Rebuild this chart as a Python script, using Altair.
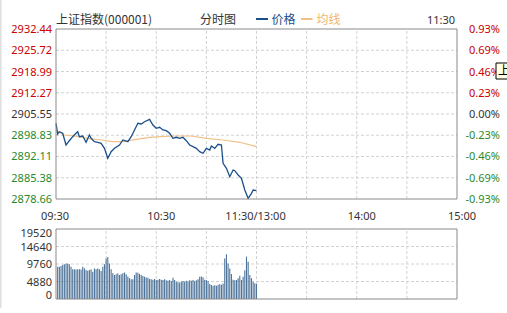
import altair as alt
import pandas as pd

# ---------------- data ----------------
price_ticks = [2932.44, 2925.72, 2918.99, 2912.27, 2905.55, 2898.83, 2892.11, 2885.38, 2878.66]
pct_labels = ["0.93%", "0.69%", "0.46%", "0.23%", "0.00%", "-0.23%", "-0.46%", "-0.69%", "-0.93%"]
prev_close = 2905.55
vol_ticks = [19520, 14640, 9760, 4880, 0]
time_ticks = [0, 60, 120, 180, 240]
time_labels = ["09:30", "10:30", "11:30/13:00", "14:00", "15:00"]
grid_minutes = [30, 60, 90, 120, 150, 180, 210]

price_minutes = [0, 1, 2, 4, 6, 8, 10, 12, 13, 14, 16, 18, 20, 21, 23, 25, 27, 29, 31, 33,
                 35, 38, 40, 43, 45, 47, 49, 51, 53, 56, 58, 60, 62, 64, 66, 68, 70, 72, 74, 76,
                 78, 80, 82, 84, 86, 88, 90, 92, 93, 95, 97, 99, 100, 102, 104, 106, 107, 109, 111, 113,
                 115, 117, 118, 120]
price_values = [2902.61, 2899.22, 2899.95, 2899.45, 2895.74, 2897.10, 2898.37, 2899.44, 2899.95, 2898.37,
                2898.59, 2896.60, 2898.91, 2897.86, 2896.79, 2896.60, 2896.28, 2894.70, 2891.54, 2893.62,
                2894.70, 2895.74, 2897.33, 2896.79, 2898.37, 2900.49, 2902.61, 2902.39, 2903.11, 2903.87,
                2902.07, 2901.03, 2901.34, 2900.49, 2900.27, 2899.44, 2897.86, 2898.18, 2897.86, 2898.18,
                2897.10, 2895.74, 2895.21, 2894.70, 2893.62, 2893.12, 2894.70, 2894.16, 2895.43, 2894.70,
                2895.97, 2895.74, 2889.95, 2888.37, 2885.72, 2887.83, 2887.61, 2886.25, 2885.21, 2881.51,
                2878.88, 2880.46, 2881.51, 2881.29]

avg_minutes = [0, 5, 11, 19, 27, 34, 40, 48, 56, 63, 71, 81, 90, 100, 110, 120]
avg_values = [2900.30, 2898.91, 2898.59, 2897.86, 2897.33, 2896.79, 2896.79, 2897.55,
              2898.18, 2898.37, 2898.59, 2898.59, 2897.86, 2897.33, 2896.60, 2895.21]

volumes = [9000, 9000, 9200, 9500, 9700, 9900, 9800, 9700, 9000, 8300,
           8300, 8200, 8300, 8300, 8200, 9000, 8550, 8100, 7900, 8100,
           8300, 7600, 8500, 8300, 8500, 8300, 7800, 9000, 9700, 11300,
           11700, 9900, 8300, 7200, 6700, 6900, 7200, 6700, 6900, 7200,
           7400, 6900, 6300, 5800, 5500, 5500, 6700, 7400, 7300, 7000,
           6700, 6400, 6200, 6000, 5900, 5600, 5500, 5400, 5600, 5300,
           5400, 5600, 5400, 5300, 5500, 5200, 5100, 5300, 5000, 5900,
           5300, 4800, 4700, 4600, 4800, 5000, 4900, 5100, 4900, 5200,
           5100, 5300, 5000, 5200, 5500, 6200, 6300, 6100, 5400, 5300,
           5000, 4200, 3900, 3700, 3800, 3700, 4000, 4100, 4000, 4300,
           11300, 12500, 9900, 8500, 7000, 5400, 5200, 5300, 5800, 6500,
           5300, 6200, 8000, 11800, 10400, 6700, 5800, 4800, 4400, 4200]

# ---------------- styling ----------------
W, H = 401, 270
RED, GREEN, GRAY = "#c80000", "#2a8a2a", "#333333"
GRID = "#d2d2d2"
BORDER = "#8a8a8a"
BLUE = "#1b4f8a"
ORANGE = "#f1c088"
BARC = "#4d7399"
NUM_FONT = "Noto Sans"
CJK_FONT = "Noto Sans CJK SC"

xs = alt.Scale(domain=[0, 240], nice=False, zero=False)
ps = alt.Scale(domain=[price_ticks[-1], price_ticks[0]], range=[170, 0], nice=False, zero=False)
vs = alt.Scale(domain=[0, vol_ticks[0]], range=[270, 200], nice=False, zero=False)

price_df = pd.DataFrame({"m": price_minutes, "p": price_values})
avg_df = pd.DataFrame({"m": avg_minutes, "p": avg_values})
vol_df = pd.DataFrame({"m": [i + 1 for i in range(len(volumes))], "v": volumes, "z": 0})
ptick_df = pd.DataFrame({"p": price_ticks, "pct": pct_labels})
vtick_df = pd.DataFrame({"v": vol_ticks})
grid_df = pd.DataFrame({"m": grid_minutes})
time_df = pd.DataFrame({"m": time_ticks, "t": time_labels})

X = lambda f: alt.X(f, scale=xs, axis=None)
YP = lambda f: alt.Y(f, scale=ps, axis=None)
YV = lambda f: alt.Y(f, scale=vs, axis=None)

# grids
pgrid_h = alt.Chart(pd.DataFrame({"p": price_ticks[1:-1], "a": 0, "b": 240})).mark_rule(
    color=GRID, strokeDash=[3, 2], strokeWidth=1).encode(x=X("a:Q"), x2="b:Q", y=YP("p:Q"))
pgrid_v = alt.Chart(grid_df.assign(lo=price_ticks[-1], hi=price_ticks[0])).mark_rule(
    color=GRID, strokeDash=[3, 2], strokeWidth=1).encode(x=X("m:Q"), y=YP("lo:Q"), y2="hi:Q")
vgrid_h = alt.Chart(pd.DataFrame({"v": vol_ticks[1:-1], "a": 0, "b": 240})).mark_rule(
    color=GRID, strokeDash=[3, 2], strokeWidth=1).encode(x=X("a:Q"), x2="b:Q", y=YV("v:Q"))
vgrid_v = alt.Chart(grid_df.assign(lo=0, hi=vol_ticks[0])).mark_rule(
    color=GRID, strokeDash=[3, 2], strokeWidth=1).encode(x=X("m:Q"), y=YV("lo:Q"), y2="hi:Q")

# marks
bars = alt.Chart(vol_df).mark_rule(color=BARC, strokeWidth=1.1).encode(
    x=X("m:Q"), y=YV("v:Q"), y2="z:Q")
avg_line = alt.Chart(avg_df).mark_line(color=ORANGE, strokeWidth=1.2).encode(
    x=X("m:Q"), y=YP("p:Q"))
price_line = alt.Chart(price_df).mark_line(color=BLUE, strokeWidth=1.3).encode(
    x=X("m:Q"), y=YP("p:Q"))

# borders
pborder = alt.Chart(pd.DataFrame({"a": [0], "b": [240], "lo": [price_ticks[-1]], "hi": [price_ticks[0]]})).mark_rect(
    fillOpacity=0, stroke=BORDER, strokeWidth=1).encode(x=X("a:Q"), x2="b:Q", y=YP("lo:Q"), y2="hi:Q")
vborder = alt.Chart(pd.DataFrame({"a": [0], "b": [240], "lo": [0], "hi": [vol_ticks[0]]})).mark_rect(
    fillOpacity=0, stroke=BORDER, strokeWidth=1).encode(x=X("a:Q"), x2="b:Q", y=YV("lo:Q"), y2="hi:Q")

color_expr = (f"datum.p > {prev_close + 0.005} ? '{RED}' : "
              f"(datum.p < {prev_close - 0.005} ? '{GREEN}' : '{GRAY}')")

plabels = alt.Chart(ptick_df).transform_calculate(
    c=color_expr, lab="format(datum.p, '.2f')").mark_text(
    align="right", baseline="middle", font=NUM_FONT, fontSize=11, dy=1).encode(
    x=alt.value(-4), y=YP("p:Q"), text="lab:N", color=alt.Color("c:N", scale=None))
pctlabels = alt.Chart(ptick_df).transform_calculate(c=color_expr).mark_text(
    align="right", baseline="middle", font=NUM_FONT, fontSize=11, dy=1).encode(
    x=alt.value(444), y=YP("p:Q"), text="pct:N", color=alt.Color("c:N", scale=None))

vl_mid = alt.Chart(vtick_df).transform_filter(f"datum.v > 0 && datum.v < {vol_ticks[0]}").mark_text(
    align="right", baseline="middle", font=NUM_FONT, fontSize=11, color=GRAY, dy=1).encode(
    x=alt.value(-4), y=YV("v:Q"), text="v:N")
vl_top = alt.Chart(vtick_df).transform_filter(f"datum.v == {vol_ticks[0]}").mark_text(
    align="right", baseline="top", font=NUM_FONT, fontSize=11, color=GRAY, dy=-1).encode(
    x=alt.value(-4), y=YV("v:Q"), text="v:N")
vl_bot = alt.Chart(vtick_df).transform_filter("datum.v == 0").mark_text(
    align="right", baseline="bottom", font=NUM_FONT, fontSize=11, color=GRAY, dy=2).encode(
    x=alt.value(-4), y=YV("v:Q"), text="v:N")

tl_a = alt.Chart(time_df).transform_filter("datum.m == 0 || datum.m == 120").mark_text(
    align="center", baseline="middle", font=NUM_FONT, fontSize=11, color=GRAY, dx=-1).encode(
    x=X("m:Q"), y=alt.value(187.5), text="t:N")
tl_b = alt.Chart(time_df).transform_filter("datum.m != 0 && datum.m != 120").mark_text(
    align="center", baseline="middle", font=NUM_FONT, fontSize=11, color=GRAY, dx=5).encode(
    x=X("m:Q"), y=alt.value(187.5), text="t:N")

# header texts
one = pd.DataFrame({"k": [0]})
title_txt = alt.Chart(one).mark_text(align="left", baseline="middle", font=CJK_FONT, fontSize=12,
                                     color=GRAY, text="上证指数(000001)").encode(
    x=alt.value(0), y=alt.value(-9))
sub_txt = alt.Chart(one).mark_text(align="center", baseline="middle", font=CJK_FONT, fontSize=12,
                                   color=GRAY, text="分时图").encode(x=alt.value(162), y=alt.value(-9))
leg_b = alt.Chart(one).mark_rule(color=BLUE, strokeWidth=2).encode(
    x=alt.value(200), x2=alt.value(212), y=alt.value(-10))
leg_bt = alt.Chart(one).mark_text(align="left", baseline="middle", font=CJK_FONT, fontSize=12,
                                  color=BLUE, text="价格").encode(x=alt.value(215.5), y=alt.value(-9))
leg_o = alt.Chart(one).mark_rule(color=ORANGE, strokeWidth=2).encode(
    x=alt.value(245), x2=alt.value(256.5), y=alt.value(-10))
leg_ot = alt.Chart(one).mark_text(align="left", baseline="middle", font=CJK_FONT, fontSize=12,
                                  color="#efb66f", text="均线").encode(x=alt.value(260.5), y=alt.value(-9))
time_txt = alt.Chart(one).mark_text(align="right", baseline="middle", font=NUM_FONT, fontSize=11,
                                    color=GRAY, text="11:30").encode(x=alt.value(399), y=alt.value(-8))

# light frame line at the far left edge
frame = alt.Chart(one).mark_rule(color="#dedede", strokeWidth=1.5).encode(
    x=alt.value(-55.2), y=alt.value(-29), y2=alt.value(279))

# small tooltip box at the right edge
box = alt.Chart(one).mark_rect(fill="#ffffe6", stroke="#000000", strokeWidth=1).encode(
    x=alt.value(440), x2=alt.value(460), y=alt.value(34), y2=alt.value(50))
box_t = alt.Chart(one).mark_text(align="left", baseline="middle", font=CJK_FONT, fontSize=12,
                                 color="#000000", text="上").encode(x=alt.value(442), y=alt.value(42))

chart = alt.layer(
    frame,
    pgrid_h, pgrid_v, vgrid_h, vgrid_v,
    bars, avg_line, price_line,
    pborder, vborder,
    plabels, pctlabels, vl_mid, vl_top, vl_bot, tl_a, tl_b,
    title_txt, sub_txt, leg_b, leg_bt, leg_o, leg_ot, time_txt,
    box, box_t,
).resolve_scale(y="independent").properties(
    width=W, height=H,
    padding={"left": 56, "top": 29, "right": 50, "bottom": 14},
    autosize=alt.AutoSizeParams(type="none"),
    background="white",
).configure_view(stroke=None)

chart.save("out.html", embed_options={"renderer": "svg", "actions": False})
